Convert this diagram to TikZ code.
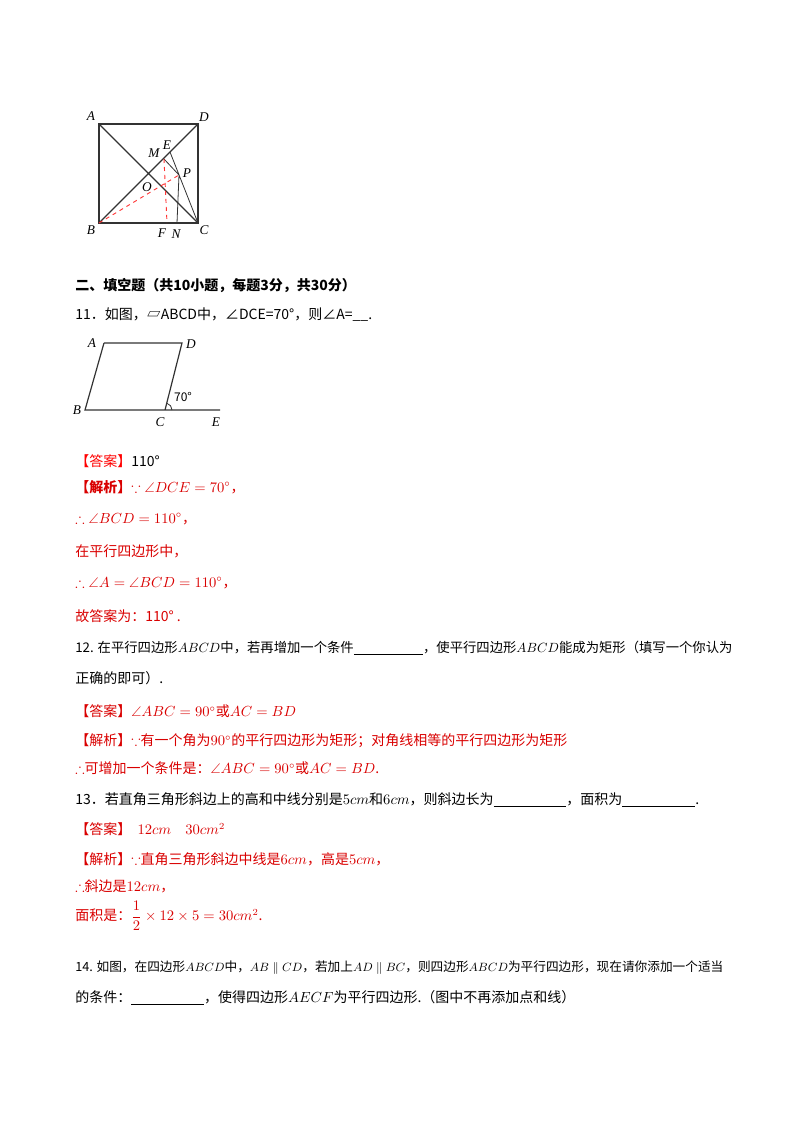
\documentclass[tikz,border=0pt]{standalone}
\usepackage{amsmath,amssymb}
\usepackage{fontspec}
\setmainfont{Liberation Serif}
\newfontfamily\cjk{Noto Sans CJK SC}
\begin{document}
\begin{tikzpicture}[x=0.75pt,y=-0.75pt,
  txt/.style={anchor=west,inner sep=0pt,font=\fontsize{10.5}{12}\selectfont\cjk},
  red/.style={text=red!85!black},
  lbl/.style={font=\fontsize{10}{12}\selectfont\itshape,inner sep=1pt},
  geo/.style={line width=0.9pt,black!80},
  rd/.style={dashed,red!80,line width=0.7pt}]
\useasboundingbox (0,0) rectangle (800,1132);
% figure 1
\coordinate (A) at (99,124); \coordinate (D) at (198,124);
\coordinate (B) at (99,223); \coordinate (C) at (198,223);
\coordinate (E) at (170,152); \coordinate (M) at (164,159);
\coordinate (P) at (179,175); \coordinate (F) at (167,223);
\coordinate (N) at (177,223);
\draw[geo] (A) rectangle (C);
\draw[geo] (A) -- (C) (B) -- (D);
\draw[geo,line width=0.6pt] (E) -- (C) (M) -- (P) (P) -- (N);
\draw[rd] (B) -- (P) (M) -- (F);
\node[lbl] at (91,116) {A}; \node[lbl] at (204,117) {D};
\node[lbl] at (91,230) {B}; \node[lbl] at (204,230) {C};
\node[lbl] at (167,145) {E}; \node[lbl] at (154,153) {M};
\node[lbl] at (187,173) {P}; \node[lbl] at (147,187) {O};
\node[lbl] at (162,233) {F}; \node[lbl] at (176,234) {N};
% figure 2
\coordinate (a) at (104,343); \coordinate (d) at (182,343);
\coordinate (b) at (85,410); \coordinate (c) at (165,410); \coordinate (e) at (220,410);
\draw[geo] (a) -- (d) -- (c) (a) -- (b) -- (e);
\draw[geo,line width=0.6pt] ([shift={(0:7)}]c) arc (0:-74:7);
\node[lbl] at (92,343) {A}; \node[lbl] at (191,344) {D};
\node[lbl] at (77,410) {B}; \node[lbl] at (160,422) {C};
\node[lbl] at (216,422) {E};
\node[font=\fontsize{9}{10}\selectfont\cjk,inner sep=0pt] at (183,397) {70°};
% text
\node[txt,font=\fontsize{10.5}{12}\selectfont\cjk\bfseries] at (75,286) {二、填空题（共10小题，每题3分，共30分）};
\node[txt] at (75,315) {11．如图，▱ABCD中，∠DCE=70°，则∠A=\_\_.};
\node[txt] at (75,461) {\textcolor{red}{【答案】}110°};
\node[txt,red] at (75,487) {\textbf{【解析】}$\because\angle DCE=70^\circ$，};
\node[txt,red] at (75,519) {$\therefore\angle BCD=110^\circ$，};
\node[txt,red] at (75,551) {在平行四边形中，};
\node[txt,red] at (75,583) {$\therefore\angle A=\angle BCD=110^\circ$，};
\node[txt,red] at (75,616) {故答案为：110°\ .};
\node[txt,font=\fontsize{10}{12}\selectfont\cjk] at (75,648) {12. 在平行四边形$ABCD$中，若再增加一个条件\underline{\hspace{5.2em}}，使平行四边形$ABCD$能成为矩形（填写一个你认为};
\node[txt] at (75,678) {正确的即可）.};
\node[txt,red] at (75,711) {【答案】$\angle ABC=90^\circ$或$AC=BD$};
\node[txt,red] at (75,741) {【解析】$\because$有一个角为$90^\circ$的平行四边形为矩形；对角线相等的平行四边形为矩形};
\node[txt,red] at (75,768) {$\therefore$可增加一个条件是：$\angle ABC=90^\circ$或$AC=BD$.};
\node[txt] at (75,800) {13．若直角三角形斜边上的高和中线分别是$5cm$和$6cm$，则斜边长为\underline{\hspace{5.2em}}，面积为\underline{\hspace{5.2em}}.};
\node[txt,red] at (75,829) {【答案】\ \ $12cm$\quad$30cm^2$};
\node[txt,red] at (75,859) {【解析】$\because$直角三角形斜边中线是$6cm$，高是$5cm$，};
\node[txt,red] at (75,886) {$\therefore$斜边是$12cm$，};
\node[txt,red] at (75,916) {面积是：$\dfrac12\times12\times5=30cm^2$.};
\node[txt,font=\fontsize{9.5}{12}\selectfont\cjk] at (75,968) {14. 如图，在四边形$ABCD$中，$AB\parallel CD$，若加上$AD\parallel BC$，则四边形$ABCD$为平行四边形，现在请你添加一个适当};
\node[txt] at (75,998) {的条件：\underline{\hspace{5.2em}}，使得四边形$AECF$为平行四边形.（图中不再添加点和线）};
\end{tikzpicture}
\end{document}
